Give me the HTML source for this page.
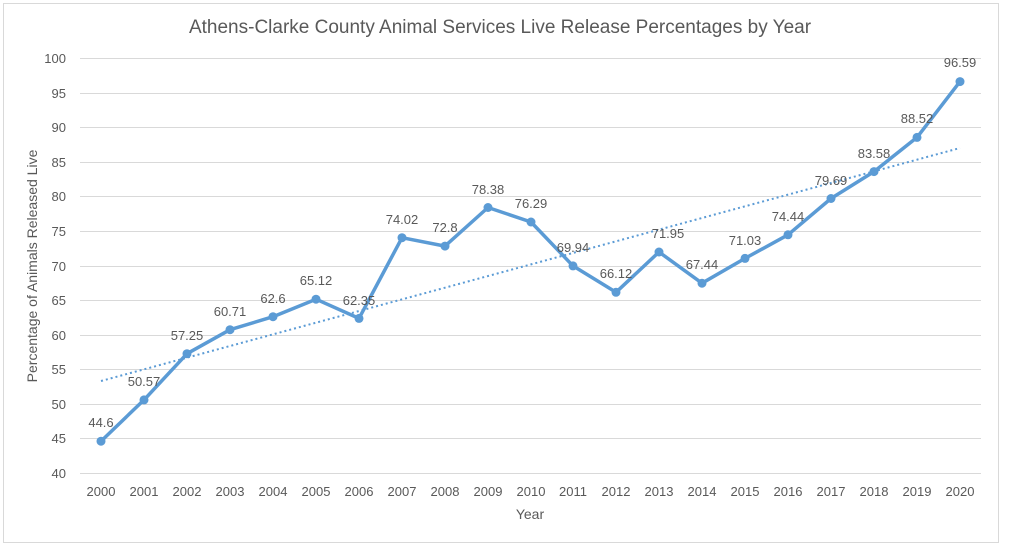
<!DOCTYPE html>
<html><head><meta charset="utf-8"><style>
body{margin:0;background:#fff;}
svg{display:block;font-family:"Liberation Sans",sans-serif;}
</style></head><body>
<svg width="1024" height="551" viewBox="0 0 1024 551">
<rect x="3.5" y="3.5" width="995" height="539" fill="#fff" stroke="#d9d9d9"/>
<text x="500" y="33" font-size="19" fill="#595959" text-anchor="middle">Athens-Clarke County Animal Services Live Release Percentages by Year</text>
<g stroke="#d9d9d9" stroke-width="1">
<line x1="80" x2="981" y1="58.5" y2="58.5"/><line x1="80" x2="981" y1="93.5" y2="93.5"/><line x1="80" x2="981" y1="127.5" y2="127.5"/><line x1="80" x2="981" y1="162.5" y2="162.5"/><line x1="80" x2="981" y1="196.5" y2="196.5"/><line x1="80" x2="981" y1="231.5" y2="231.5"/><line x1="80" x2="981" y1="266.5" y2="266.5"/><line x1="80" x2="981" y1="300.5" y2="300.5"/><line x1="80" x2="981" y1="335.5" y2="335.5"/><line x1="80" x2="981" y1="369.5" y2="369.5"/><line x1="80" x2="981" y1="404.5" y2="404.5"/><line x1="80" x2="981" y1="438.5" y2="438.5"/><line x1="80" x2="981" y1="473.5" y2="473.5"/>
</g>
<g font-size="13" fill="#595959" text-anchor="end">
<text x="66" y="63">100</text><text x="66" y="98">95</text><text x="66" y="132">90</text><text x="66" y="167">85</text><text x="66" y="201">80</text><text x="66" y="236">75</text><text x="66" y="271">70</text><text x="66" y="305">65</text><text x="66" y="340">60</text><text x="66" y="374">55</text><text x="66" y="409">50</text><text x="66" y="443">45</text><text x="66" y="478">40</text>
</g>
<g font-size="13" fill="#595959" text-anchor="middle">
<text x="101" y="496">2000</text><text x="144" y="496">2001</text><text x="187" y="496">2002</text><text x="230" y="496">2003</text><text x="273" y="496">2004</text><text x="316" y="496">2005</text><text x="359" y="496">2006</text><text x="402" y="496">2007</text><text x="445" y="496">2008</text><text x="488" y="496">2009</text><text x="531" y="496">2010</text><text x="573" y="496">2011</text><text x="616" y="496">2012</text><text x="659" y="496">2013</text><text x="702" y="496">2014</text><text x="745" y="496">2015</text><text x="788" y="496">2016</text><text x="831" y="496">2017</text><text x="874" y="496">2018</text><text x="917" y="496">2019</text><text x="960" y="496">2020</text>
<text x="530" y="519" font-size="14">Year</text>
</g>
<text transform="translate(37,266) rotate(-90)" font-size="14" fill="#595959" text-anchor="middle">Percentage of Animals Released Live</text>
<line x1="101" y1="381" x2="960" y2="148" stroke="#5b9bd5" stroke-width="2" stroke-dasharray="2,3"/>
<polyline fill="none" stroke="#5b9bd5" stroke-width="3.5" stroke-linejoin="round" points="101,441.2 144,399.9 187,353.7 230,329.7 273,316.7 316,299.2 359,318.4 402,237.7 445,246.1 488,207.5 531,222 573,265.9 616,292.3 659,252 702,283.2 745,258.4 788,234.8 831,198.5 874,171.6 917,137.4 960,81.6"/>
<g fill="#5b9bd5">
<circle cx="101" cy="441.2" r="4.5"/><circle cx="144" cy="399.9" r="4.5"/><circle cx="187" cy="353.7" r="4.5"/><circle cx="230" cy="329.7" r="4.5"/><circle cx="273" cy="316.7" r="4.5"/><circle cx="316" cy="299.2" r="4.5"/><circle cx="359" cy="318.4" r="4.5"/><circle cx="402" cy="237.7" r="4.5"/><circle cx="445" cy="246.1" r="4.5"/><circle cx="488" cy="207.5" r="4.5"/><circle cx="531" cy="222" r="4.5"/><circle cx="573" cy="265.9" r="4.5"/><circle cx="616" cy="292.3" r="4.5"/><circle cx="659" cy="252" r="4.5"/><circle cx="702" cy="283.2" r="4.5"/><circle cx="745" cy="258.4" r="4.5"/><circle cx="788" cy="234.8" r="4.5"/><circle cx="831" cy="198.5" r="4.5"/><circle cx="874" cy="171.6" r="4.5"/><circle cx="917" cy="137.4" r="4.5"/><circle cx="960" cy="81.6" r="4.5"/>
</g>
<g font-size="13" fill="#595959" text-anchor="middle">
<text x="101" y="427">44.6</text><text x="144" y="386">50.57</text><text x="187" y="340">57.25</text><text x="230" y="316">60.71</text><text x="273" y="303">62.6</text><text x="316" y="285">65.12</text><text x="359" y="305">62.35</text><text x="402" y="224">74.02</text><text x="445" y="232">72.8</text><text x="488" y="194">78.38</text><text x="531" y="208">76.29</text><text x="573" y="252">69.94</text><text x="616" y="278">66.12</text><text x="668" y="238">71.95</text><text x="702" y="269">67.44</text><text x="745" y="245">71.03</text><text x="788" y="221">74.44</text><text x="831" y="185">79.69</text><text x="874" y="158">83.58</text><text x="917" y="123">88.52</text><text x="960" y="67">96.59</text>
</g>
</svg>
</body></html>
